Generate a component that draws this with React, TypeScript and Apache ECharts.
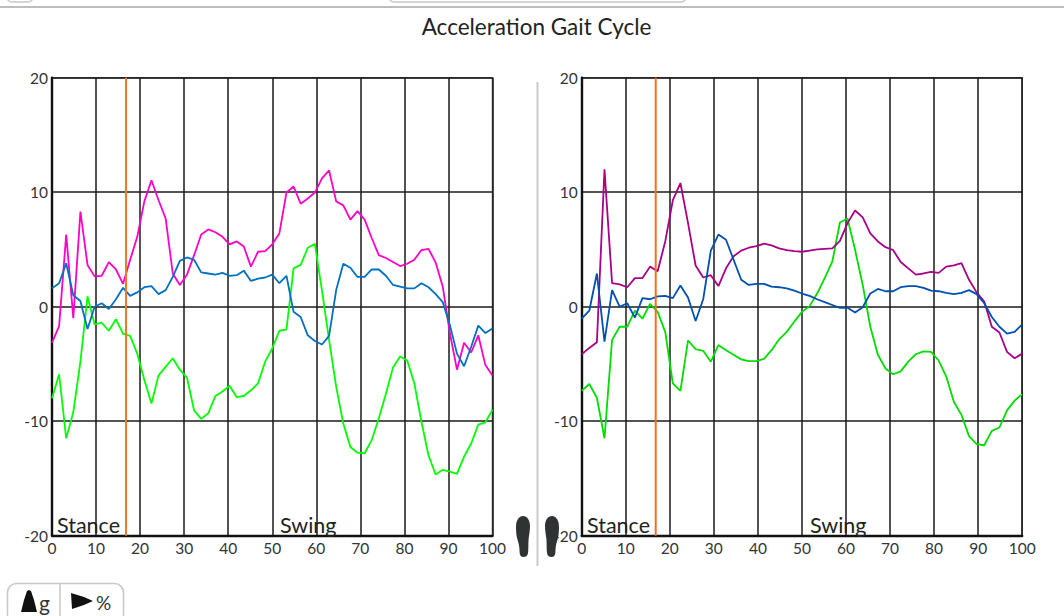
import React, { useEffect, useRef } from "react";
import * as echarts from "echarts";

const titleText = "Acceleration Gait Cycle";
const phaseLabels = ["Stance", "Swing"];
const unitLabels = ["g", "%"];
const toeOffPercent = 16.8;
const yLimits = [-20, 20];

const leftMagenta = [-3.15,-1.7,6.3,-1.0,8.3,3.65,2.65,2.7,3.9,3.25,2.0,4.1,6.1,9.2,11.05,9.3,7.7,2.9,1.9,2.8,4.5,6.3,6.75,6.5,6.1,5.45,5.7,5.25,3.5,4.8,4.85,5.45,6.4,9.97,10.5,9.0,9.45,9.97,11.2,11.9,9.2,8.85,7.6,8.35,7.6,6.0,4.5,4.25,3.9,3.55,3.75,4.1,4.95,5.05,3.85,1.75,-2.3,-5.5,-3.15,-4.0,-2.5,-5.1,-6.0];
const leftBlue = [1.6,2.05,3.8,1.0,0.5,-1.95,0.0,0.3,-0.2,0.65,1.65,0.95,1.25,1.7,1.8,1.1,1.45,2.6,4.0,4.3,4.1,3.0,2.9,2.8,2.95,2.7,2.75,3.15,2.25,2.45,2.55,2.8,2.05,2.7,-0.45,-0.9,-2.5,-3.0,-3.3,-2.55,1.45,3.75,3.4,2.6,2.6,3.25,3.25,2.7,1.9,1.75,1.6,1.6,2.05,1.7,1.1,0.4,-1.6,-4.1,-5.2,-3.5,-1.65,-2.3,-1.9];
const leftGreen = [-8.0,-5.9,-11.5,-9.2,-4.8,0.9,-1.55,-1.4,-2.1,-1.1,-2.35,-2.55,-4.1,-6.4,-8.45,-6.0,-5.25,-4.5,-5.5,-6.2,-9.05,-9.8,-9.3,-7.8,-7.4,-6.9,-7.9,-7.8,-7.3,-6.7,-4.8,-3.65,-2.1,-2.0,3.35,3.65,5.15,5.5,1.4,-2.9,-7.0,-10.2,-12.25,-12.75,-12.8,-11.65,-9.75,-7.6,-5.3,-4.35,-4.7,-6.7,-10.05,-13.0,-14.65,-14.25,-14.4,-14.6,-13.1,-11.95,-10.3,-10.1,-9.0];

const rightPurple = [-4.15,-3.6,-3.1,12.0,2.05,1.95,1.7,2.5,2.5,3.5,3.1,5.7,9.3,10.8,7.3,3.6,2.55,2.75,1.8,3.35,4.4,4.9,5.15,5.3,5.5,5.35,5.1,4.95,4.85,4.8,4.9,5.0,5.05,5.1,5.75,7.3,8.4,7.8,6.4,5.7,5.2,4.95,3.9,3.35,2.8,2.9,3.05,2.95,3.5,3.6,3.8,2.35,1.25,0.45,-1.75,-2.25,-3.95,-4.5,-4.1];
const rightBlue = [-1.05,-0.35,2.9,-3.05,1.45,0.0,0.3,-0.95,0.75,0.65,0.9,0.95,0.75,1.85,0.8,-1.25,0.65,4.9,6.3,5.85,4.1,2.35,1.9,2.0,2.0,1.75,1.7,1.6,1.4,1.15,0.95,0.65,0.4,0.15,-0.1,-0.1,-0.5,-0.05,1.15,1.55,1.35,1.35,1.7,1.8,1.8,1.65,1.4,1.35,1.2,1.1,1.2,1.45,1.1,0.3,-0.9,-1.75,-2.35,-2.2,-1.55];
const rightGreen = [-7.35,-6.75,-7.95,-11.5,-2.9,-1.75,-1.75,-0.35,-1.05,0.25,-0.45,-2.2,-6.7,-7.35,-2.95,-3.7,-3.85,-4.8,-3.35,-3.8,-4.2,-4.6,-4.75,-4.75,-4.55,-3.8,-2.85,-2.2,-1.3,-0.45,0.05,1.15,2.5,3.95,7.35,7.7,4.95,1.9,-1.75,-4.2,-5.4,-5.9,-5.65,-4.8,-4.15,-3.9,-3.95,-4.7,-6.1,-8.3,-9.45,-11.3,-12.0,-12.1,-10.85,-10.55,-9.05,-8.2,-7.65];

const FONT = "Lato";
const FOOT =
  "M7 0C11 0 14 4 14 10C14 15 13 19 12.6 23C12.2 27 12.6 33 12 37C11.6 40 9.5 41 7.5 41C5 41 3.6 39.5 3.6 36C3.6 32 3 28 1.6 24C0.4 20 0 16 0 11C0 4 3 0 7 0Z";

echarts.graphic.registerShape("footShape", echarts.graphic.extendPath(FOOT, {}) as any);

function toPairs(values: number[]) {
  return values.map((v, i) => [(i * 100) / (values.length - 1), v]);
}

function lineSeries(idx: number, values: number[], color: string) {
  return {
    type: "line",
    xAxisIndex: idx,
    yAxisIndex: idx,
    data: toPairs(values),
    showSymbol: false,
    symbol: "none",
    silent: true,
    lineStyle: { color, width: 1.8 },
    itemStyle: { color },
    z: 3,
  };
}

function markerSeries(idx: number, color: string, width: number) {
  return {
    type: "line",
    xAxisIndex: idx,
    yAxisIndex: idx,
    data: yLimits.map((y) => [toeOffPercent, y]),
    showSymbol: false,
    symbol: "none",
    silent: true,
    lineStyle: { color, width },
    z: 4,
  };
}

const xAxis = (gridIndex: number) => ({
  type: "value",
  gridIndex,
  min: 0,
  max: 100,
  interval: 10,
  axisLine: { show: true, onZero: false, lineStyle: { color: "#111", width: 2.4 } },
  axisTick: { show: false },
  axisLabel: { color: "#333", fontFamily: FONT, fontSize: 15.5, margin: 4, showMinLabel: true, showMaxLabel: true },
  splitLine: { show: true, lineStyle: { color: "#1a1a1a", width: 1.5 } },
});

const yAxis = (gridIndex: number) => ({
  type: "value",
  gridIndex,
  min: yLimits[0],
  max: yLimits[1],
  interval: 10,
  axisLine: { show: true, onZero: false, lineStyle: { color: "#111", width: 2.4 } },
  axisTick: { show: false },
  axisLabel: { color: "#333", fontFamily: FONT, fontSize: 15.5, margin: 4, showMinLabel: true, showMaxLabel: true },
  splitLine: { show: true, lineStyle: { color: "#1a1a1a", width: 1.5 } },
});

const phaseText = (text: string, x: number) => ({
  type: "text",
  x,
  y: 514,
  z: 10,
  style: { text, fill: "#222", font: `21.5px ${FONT}` },
});

const foot = (x: number, mirror: boolean) => ({
  type: "footShape",
  x: mirror ? x + 14 : x,
  y: 516,
  scaleX: mirror ? -1 : 1,
  scaleY: 1,
  z: 10,
  style: { fill: "#2f3333" },
});

export default function App() {
  const ref = useRef<HTMLDivElement>(null);

  useEffect(() => {
    if (!ref.current) return;
    document.body.style.margin = "0";
    const chart = echarts.init(ref.current, undefined, { renderer: "svg" });
    chart.setOption({
      animation: false,
      backgroundColor: "#ffffff",
      title: {
        text: titleText,
        left: 531.5,
        top: 10,
        textAlign: "center",
        textStyle: { color: "#222", fontFamily: FONT, fontSize: 22.5, fontWeight: "normal" },
      },
      grid: [
        { left: 52, top: 77.7, width: 440.5, height: 458, show: true, borderColor: "#555", borderWidth: 1.5, backgroundColor: "transparent" },
        { left: 581.7, top: 77.7, width: 440.5, height: 458, show: true, borderColor: "#555", borderWidth: 1.5, backgroundColor: "transparent" },
      ],
      xAxis: [xAxis(0), xAxis(1)],
      yAxis: [yAxis(0), yAxis(1)],
      series: [
        lineSeries(0, leftGreen, "#00FF00"),
        lineSeries(0, leftMagenta, "#FF00C8"),
        lineSeries(0, leftBlue, "#0070C0"),
        markerSeries(0, "#F07828", 2),
        lineSeries(1, rightGreen, "#00DD00"),
        lineSeries(1, rightPurple, "#AA0088"),
        lineSeries(1, rightBlue, "#0050B0"),
        markerSeries(1, "#F07020", 2),
      ],
      graphic: [
        { type: "line", shape: { x1: 0, y1: 7, x2: 1064, y2: 7 }, style: { stroke: "#bdbdbd", lineWidth: 2 } },
        { type: "rect", shape: { x: 7, y: -14, width: 26, height: 16, r: 5 }, style: { fill: "#fff", stroke: "#c8c8c8", lineWidth: 1.5 } },
        { type: "rect", shape: { x: 389, y: -14, width: 297, height: 16, r: 5 }, style: { fill: "#fff", stroke: "#c8c8c8", lineWidth: 1.5 } },
        { type: "line", shape: { x1: 537.5, y1: 82, x2: 537.5, y2: 566 }, style: { stroke: "#c9c9c9", lineWidth: 2 } },
        phaseText(phaseLabels[0], 57),
        phaseText(phaseLabels[1], 280),
        phaseText(phaseLabels[0], 587),
        phaseText(phaseLabels[1], 810),
        foot(516, false),
        foot(545, true),
        { type: "rect", shape: { x: 7.5, y: 583.5, width: 116, height: 40, r: 9 }, style: { fill: "#fff", stroke: "#c8c8c8", lineWidth: 1.5 } },
        { type: "line", shape: { x1: 60, y1: 584, x2: 60, y2: 616 }, style: { stroke: "#c8c8c8", lineWidth: 1.5 } },
        { type: "polygon", shape: { points: [[21, 612], [24, 600], [27, 591], [29, 590], [31, 591], [34, 600], [37, 612]] }, style: { fill: "#111" } },
        { type: "polygon", shape: { points: [[71, 593], [84, 597], [93, 601], [84, 605], [72, 609]] }, style: { fill: "#111" } },
        { type: "text", x: 39, y: 592, style: { text: unitLabels[0], fill: "#333", font: `21px ${FONT}` } },
        { type: "text", x: 96, y: 593, style: { text: unitLabels[1], fill: "#333", font: `19px ${FONT}` } },
      ],
    });
    return () => chart.dispose();
  }, []);

  return <div ref={ref} style={{ position: "absolute", left: 0, top: 0, width: 1064, height: 616, overflow: "hidden" }} />;
}
